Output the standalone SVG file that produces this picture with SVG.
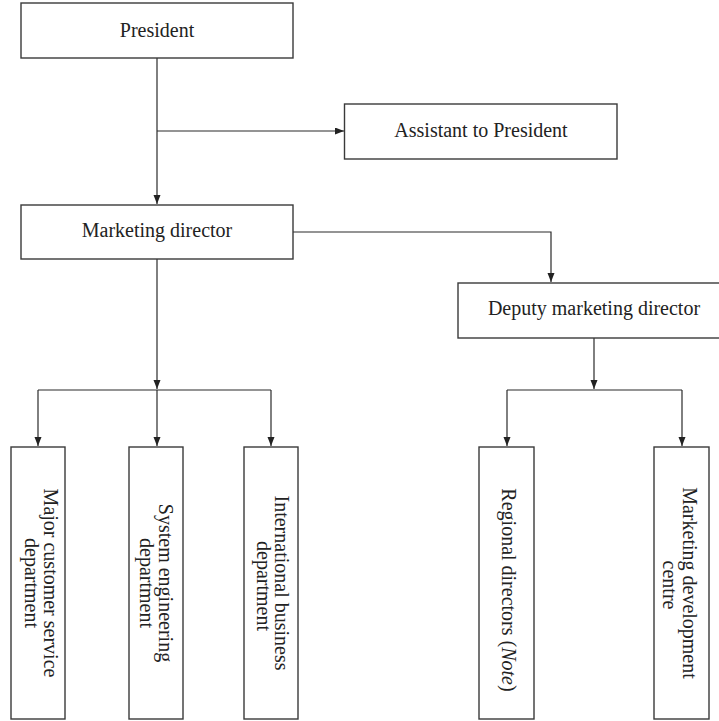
<svg xmlns="http://www.w3.org/2000/svg" width="719" height="721" viewBox="0 0 719 721">
<style>
.box{fill:#fff;stroke:#3a3a3a;stroke-width:1.4}
.t{font-family:"Liberation Serif","Times New Roman",serif;font-size:20px;fill:#222;text-anchor:middle}
.c{fill:none;stroke:#2a2a2a;stroke-width:1.2}
</style>
<defs>
<marker id="ah" markerUnits="userSpaceOnUse" markerWidth="9" markerHeight="8" refX="9" refY="3.5" orient="auto">
<path d="M0,0 L9,3.5 L0,7 z" fill="#222"/>
</marker>
</defs>
<rect width="719" height="721" fill="#fff"/>
<g id="connectors">
<path class="c" d="M157,58 V204" marker-end="url(#ah)"/>
<path class="c" d="M157,131 H344" marker-end="url(#ah)"/>
<path class="c" d="M293,232 H551 V282" marker-end="url(#ah)"/>
<path class="c" d="M157,259 V389" marker-end="url(#ah)"/>
<path class="c" d="M38,390 H271"/>
<path class="c" d="M38,390 V446" marker-end="url(#ah)"/>
<path class="c" d="M157,390 V446" marker-end="url(#ah)"/>
<path class="c" d="M271,390 V446" marker-end="url(#ah)"/>
<path class="c" d="M594,338 V389" marker-end="url(#ah)"/>
<path class="c" d="M507,390 H682"/>
<path class="c" d="M507,390 V446" marker-end="url(#ah)"/>
<path class="c" d="M682,390 V446" marker-end="url(#ah)"/>
</g>
<g id="president">
<rect class="box" x="21" y="3" width="272" height="55"/>
<text class="t" x="157" y="37">President</text>
</g>
<g id="assistant">
<rect class="box" x="344.5" y="104" width="272.5" height="55"/>
<text class="t" x="481" y="137">Assistant to President</text>
</g>
<g id="marketing-director">
<rect class="box" x="21" y="205" width="272" height="54"/>
<text class="t" x="157" y="237">Marketing director</text>
</g>
<g id="deputy">
<rect class="box" x="458" y="283" width="275" height="55"/>
<text class="t" x="594" y="315">Deputy marketing director</text>
</g>
<g id="major-customer">
<rect class="box" x="11" y="447" width="54" height="272"/>
<text class="t" transform="translate(44,583) rotate(90)">Major customer service</text>
<text class="t" transform="translate(25,583) rotate(90)">department</text>
</g>
<g id="system-engineering">
<rect class="box" x="129" y="447" width="54" height="272"/>
<text class="t" transform="translate(159,583) rotate(90)">System engineering</text>
<text class="t" transform="translate(140,583) rotate(90)">department</text>
</g>
<g id="international-business">
<rect class="box" x="244" y="447" width="54" height="272"/>
<text class="t" transform="translate(275,583) rotate(90)">International business</text>
<text class="t" transform="translate(257,586) rotate(90)">department</text>
</g>
<g id="regional-directors">
<rect class="box" x="479" y="447" width="55" height="272"/>
<text class="t" transform="translate(502,590) rotate(90)">Regional directors (<tspan font-style="italic">Note</tspan>)</text>
</g>
<g id="marketing-development">
<rect class="box" x="654" y="447" width="55" height="272"/>
<text class="t" transform="translate(683,583) rotate(90)">Marketing development</text>
<text class="t" transform="translate(663,585) rotate(90)">centre</text>
</g>
</svg>
